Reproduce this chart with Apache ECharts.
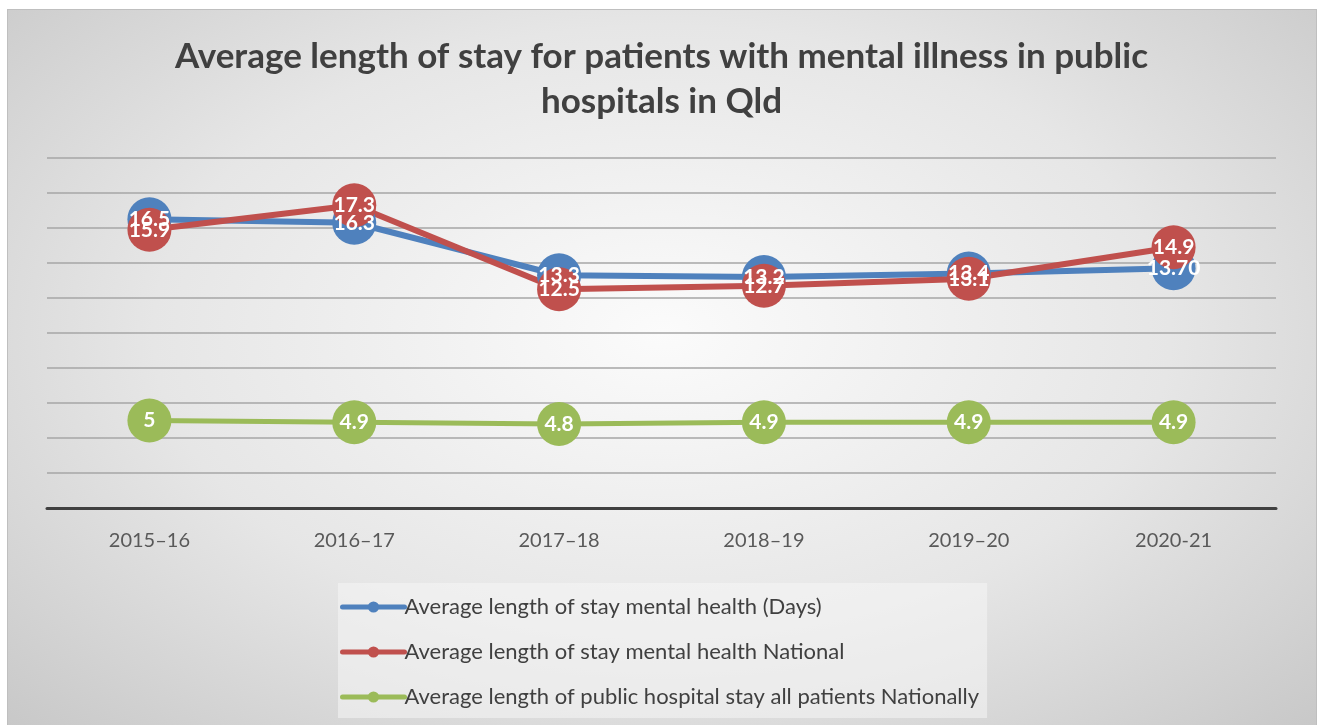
<!DOCTYPE html>
<html>
<head>
<meta charset="utf-8">
<script src="https://cdn.jsdelivr.net/npm/echarts@6/dist/echarts.min.js"></script>
<style>
    body { margin: 0; background: #ffffff; }
    #fundo {
        position: absolute; left: 7px; top: 9px; width: 1308px; height: 716px;
        border: 1px solid #bfbfbf; border-bottom: none;
        background: radial-gradient(ellipse at 50% 45%, #fbfbfb 0%, #e6e6e6 55%, #c8c8c8 100%);
    }
    #estrutura { position: absolute; left: 0; top: 0; width: 1323px; height: 725px; }
</style>
</head>
<body>
<div id="fundo"></div>
<div id="estrutura"></div>
<script>
// dados
var anos = ['2015–16', '2016–17', '2017–18', '2018–19', '2019–20', '2020-21'];
var saudeMentalQld = [16.5, 16.3, 13.3, 13.2, 13.4, 13.7];
var saudeMentalQldTexto = ['16.5', '16.3', '13.3', '13.2', '13.4', '13.70'];
var saudeMentalNacional = [15.9, 17.3, 12.5, 12.7, 13.1, 14.9];
var todosPacientes = [5, 4.9, 4.8, 4.9, 4.9, 4.9];

var nomes = [
    'Average length of stay mental health (Days)',
    'Average length of stay mental health National',
    'Average length of public hospital stay all patients Nationally'
];

function CriaSerie(nome, dados, cor, textos) {
    return {
        name: nome,
        type: 'line',
        data: dados,
        symbol: 'circle',
        symbolSize: 44,
        lineStyle: { color: cor, width: nome === nomes[2] ? 5 : 6 },
        itemStyle: { color: cor },
        label: {
            show: true,
            position: 'inside',
            color: '#ffffff',
            fontSize: 21,
            fontWeight: 'bold',
            fontFamily: 'Lato',
            formatter: function (p) {
                return textos ? textos[p.dataIndex] : String(p.value);
            }
        },
        emphasis: { disabled: true },
        animation: false
    };
}

var chartDom = document.getElementById('estrutura');
var myChart = echarts.init(chartDom);

var option = {
    title: {
        text: 'Average length of stay for patients with mental illness in public\nhospitals in Qld',
        left: 'center',
        top: 29,
        textStyle: {
            color: '#404040',
            fontSize: 35,
            fontWeight: 'bold',
            fontFamily: 'Lato',
            lineHeight: 45
        }
    },
    legend: {
        orient: 'vertical',
        left: 338,
        top: 583,
        padding: [13, 8, 10, 2],
        backgroundColor: 'rgba(245,245,245,0.55)',
        itemWidth: 62,
        itemHeight: 14,
        itemGap: 23,
        lineStyle: { width: 5, cap: 'round' },
        textStyle: { color: '#404040', fontSize: 22, fontFamily: 'Lato', padding: [0, 0, 0, -5] },
        data: nomes
    },
    grid: { left: 47, right: 47, top: 158, bottom: 217 },
    xAxis: {
        type: 'category',
        data: anos,
        axisLine: { lineStyle: { color: '#404040', width: 3 } },
        axisTick: { show: false },
        axisLabel: { color: '#595959', fontSize: 20, fontFamily: 'Lato', margin: 23 }
    },
    yAxis: {
        type: 'value',
        min: 0,
        max: 20,
        interval: 2,
        axisLabel: { show: false },
        axisLine: { show: false },
        axisTick: { show: false },
        splitLine: { lineStyle: { color: '#a6a6a6', width: 1.5 } }
    },
    series: [
        CriaSerie(nomes[0], saudeMentalQld, '#4f81bd', saudeMentalQldTexto),
        CriaSerie(nomes[1], saudeMentalNacional, '#c0504d'),
        CriaSerie(nomes[2], todosPacientes, '#9bbb59')
    ]
};

option && myChart.setOption(option);
</script>
</body>
</html>
